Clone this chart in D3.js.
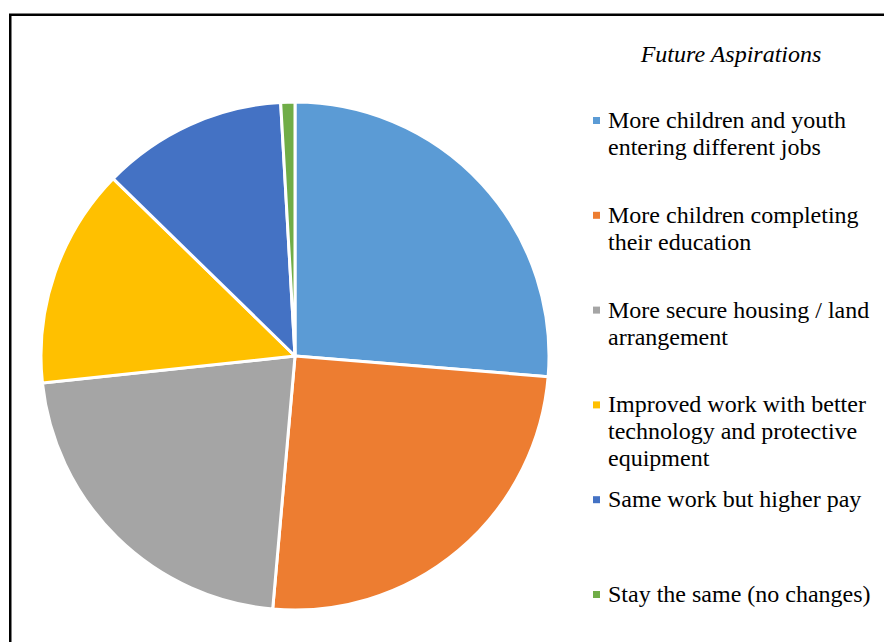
<!DOCTYPE html>
<html>
<head>
<meta charset="utf-8">
<script src="https://cdn.jsdelivr.net/npm/d3@7/dist/d3.min.js"></script>
<style>
  html, body { margin: 0; padding: 0; background: #fff; }
  svg { display: block; }
</style>
</head>
<body>
<svg id="chart" width="884" height="642"></svg>
<script>
// Share of responses for each future aspiration (percent)
const categories = [
  "More children and youth entering different jobs",
  "More children completing their education",
  "More secure housing / land arrangement",
  "Improved work with better technology and protective equipment",
  "Same work but higher pay",
  "Stay the same (no changes)"
];
const values = [26.3, 25.1, 21.9, 14.0, 11.8, 0.9];
const colors = ["#5B9BD5", "#ED7D31", "#A5A5A5", "#FFC000", "#4472C4", "#70AD47"];
const title = "Future Aspirations";

const svg = d3.select("#chart");
const W = 884, H = 642;

// chart frame
svg.append("rect")
  .attr("x", 10.25).attr("y", 14.75)
  .attr("width", W).attr("height", H)
  .attr("fill", "none").attr("stroke", "#000").attr("stroke-width", 2.5);

const data = categories.map((c, i) => ({ category: c, value: values[i], color: colors[i] }));

const cx = 295, cy = 356, radius = 254;
const pie = d3.pie().value(d => d.value).sort(null);
const arc = d3.arc().innerRadius(0).outerRadius(radius);

svg.append("g")
  .attr("transform", `translate(${cx},${cy})`)
  .selectAll("path")
  .data(pie(data))
  .join("path")
  .attr("d", arc)
  .attr("fill", d => d.data.color)
  .attr("stroke", "#fff")
  .attr("stroke-width", 3)
  .attr("stroke-linejoin", "round");

// legend
const fontFamily = "'Liberation Serif', 'Times New Roman', serif";
svg.append("text")
  .attr("x", 731).attr("y", 62)
  .attr("text-anchor", "middle")
  .attr("font-family", fontFamily)
  .attr("font-style", "italic")
  .attr("font-size", 24)
  .attr("fill", "#000")
  .text(title);

const legendX = 608, firstBaseline = 128, itemStep = 94.8, lineStep = 27, wrapWidth = 272;

const items = svg.append("g").selectAll("g")
  .data(data)
  .join("g")
  .attr("transform", (d, i) => `translate(0,${firstBaseline + i * itemStep})`);

items.append("rect")
  .attr("x", 593).attr("y", -11)
  .attr("width", 7).attr("height", 7)
  .attr("fill", d => d.color);

items.each(function(d) {
  const g = d3.select(this);
  const text = g.append("text")
    .attr("font-family", fontFamily)
    .attr("font-size", 24)
    .attr("fill", "#000");
  const words = d.category.split(" ");
  let line = [];
  let lineNo = 0;
  let tspan = text.append("tspan").attr("x", legendX).attr("y", 0);
  words.forEach(w => {
    line.push(w);
    tspan.text(line.join(" "));
    if (tspan.node().getComputedTextLength() > wrapWidth && line.length > 1) {
      line.pop();
      tspan.text(line.join(" "));
      line = [w];
      lineNo++;
      tspan = text.append("tspan").attr("x", legendX).attr("y", lineNo * lineStep).text(w);
    }
  });
});
</script>
</body>
</html>
